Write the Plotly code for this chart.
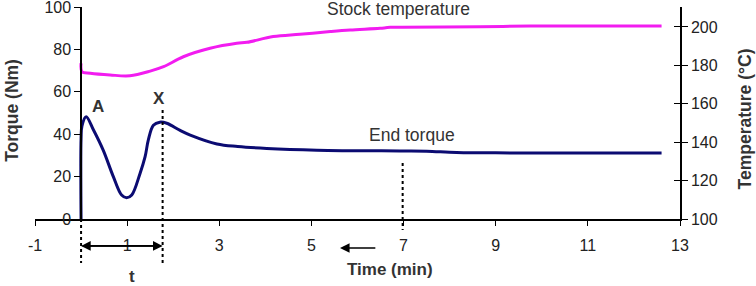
import plotly.graph_objects as go

# ---- data ----
torque_time = [0.0, 0.0, 0.02, 0.11, 0.27, 0.48, 0.70, 0.88, 0.99, 1.10, 1.28, 1.39, 1.46, 1.57, 1.71,
               1.86, 2.15, 2.37, 2.95, 3.40, 4.03, 5.12, 6.92, 7.50, 8.15, 9.31, 12.6]
torque_nm = [0.0, 38.0, 44.0, 48.3, 42.0, 32.5, 20.0, 11.3, 10.0, 11.3, 21.5, 29.4, 37.3, 44.3, 45.7,
             45.2, 41.8, 39.6, 35.4, 34.2, 33.3, 32.5, 32.1, 32.0, 31.4, 31.2, 31.2]

temp_time = [0.0, 0.02, 0.2, 0.63, 1.06, 1.50, 1.79, 2.22, 2.80, 3.38, 3.60, 4.17, 4.75, 5.41,
             5.84, 6.49, 6.71, 8.66, 9.75, 12.6]
temp_c = [181.1, 176.7, 175.9, 175.0, 174.6, 177.0, 179.3, 184.5, 188.9, 191.5, 192.0, 195.0, 196.2,
          197.6, 198.4, 199.3, 199.8, 200.1, 200.5, 200.5]

x_ticks = [-1, 1, 3, 5, 7, 9, 11, 13]
x_tick_text = ["-1", "1", "3", "5", "7", "9", "11", "13"]
torque_ticks = [0, 20, 40, 60, 80, 100]
temp_ticks = [100, 120, 140, 160, 180, 200]

NAVY = "#0b0b72"
MAGENTA = "#f21cf0"
FONT = "Liberation Sans, Arial, sans-serif"

fig = go.Figure()
fig.add_trace(go.Scatter(x=torque_time, y=torque_nm, mode="lines", line=dict(color=NAVY, width=3),
                         line_shape="spline", yaxis="y", showlegend=False, hoverinfo="skip"))
fig.add_trace(go.Scatter(x=temp_time, y=temp_c, mode="lines", line=dict(color=MAGENTA, width=3),
                         line_shape="spline", yaxis="y2", showlegend=False, hoverinfo="skip"))

ann = []
def txt(x, y, s, xref="x", yref="paper", size=17, bold=False, color="#333333", angle=0):
    ann.append(dict(x=x, y=y, xref=xref, yref=yref, text=("<b>%s</b>" % s) if bold else s,
                    showarrow=False, font=dict(size=size, color=color, family=FONT),
                    textangle=angle, xanchor="center", yanchor="middle"))

txt(0.37, 53.3, "A", yref="y", bold=True, size=17)
txt(1.70, 57.0, "X", yref="y", bold=True, size=17)
txt(6.88, 0.99, "Stock temperature", size=17.5)
txt(7.18, 0.396, "End torque", size=17.5)
txt(1.1, -0.269, "t", bold=True, size=17)
txt(6.7, -0.24, "Time (min)", bold=True, size=17)
txt(-0.036, 0.514, "Torque (Nm)", xref="paper", bold=True, size=17.5, angle=-90)
txt(1.1008, 0.47, "Temperature (°C)", xref="paper", bold=True, size=17.5, angle=-90)

# double arrow for t
for a, b in [(0.0, 1.77), (1.77, 0.0)]:
    ann.append(dict(x=a, y=-0.127, xref="x", yref="paper", ax=b, ay=0, axref="x", ayref="pixel",
                    showarrow=True, arrowhead=2, arrowsize=1.2, arrowwidth=1.6, arrowcolor="black",
                    text=""))
# left arrow
ann.append(dict(x=5.62, y=-0.137, xref="x", yref="paper", ax=6.42, ay=0, axref="x", ayref="pixel",
                showarrow=True, arrowhead=2, arrowsize=1.2, arrowwidth=1.6, arrowcolor="black", text=""))

shapes = []
for x0, y0, y1 in [(0.0, 0.0, -0.2075), (1.77, 0.514, -0.2075), (6.98, 0.264, -0.052)]:
    shapes.append(dict(type="line", xref="x", yref="paper", x0=x0, x1=x0, y0=y0, y1=y1,
                       line=dict(color="black", width=2, dash="dot")))

tickfont = dict(size=16, color="#222222", family=FONT)
fig.update_layout(
    width=756, height=286,
    margin=dict(l=35, r=76, t=7, b=67, autoexpand=False),
    paper_bgcolor="white", plot_bgcolor="white",
    font=dict(family=FONT),
    xaxis=dict(range=[-1, 13], tickvals=x_ticks, ticktext=x_tick_text, ticks="outside", ticklen=5,
               tickcolor="black", showline=True, linecolor="black", linewidth=1.5, showgrid=False,
               zeroline=False, tickfont=tickfont, ticklabelstandoff=6, ticklabeloverflow="allow",
               automargin=False),
    yaxis=dict(range=[0, 100.05], tickvals=torque_ticks, ticks="outside", ticklen=6, tickcolor="black",
               showline=True, linecolor="black", linewidth=1.5, showgrid=False, zeroline=False,
               anchor="free", position=1 / 14, tickfont=tickfont, ticklabeloverflow="allow",
               automargin=False),
    yaxis2=dict(range=[100, 210.4], tickvals=temp_ticks, ticks="outside", ticklen=6, tickcolor="black",
                showline=True, linecolor="black", linewidth=1.5, showgrid=False, zeroline=False,
                overlaying="y", side="right", anchor="x", tickfont=tickfont, ticklabeloverflow="allow",
                automargin=False),
    yaxis3=dict(range=[100, 210.4], tickvals=temp_ticks, ticks="inside", ticklen=6, tickcolor="black",
                showline=False, showgrid=False, zeroline=False, showticklabels=False,
                overlaying="y", side="right", anchor="x", automargin=False),
    annotations=ann, shapes=shapes,
)
# dummy trace to activate yaxis3
fig.add_trace(go.Scatter(x=[None], y=[None], yaxis="y3", showlegend=False, hoverinfo="skip"))

fig.write_html("out.html")
